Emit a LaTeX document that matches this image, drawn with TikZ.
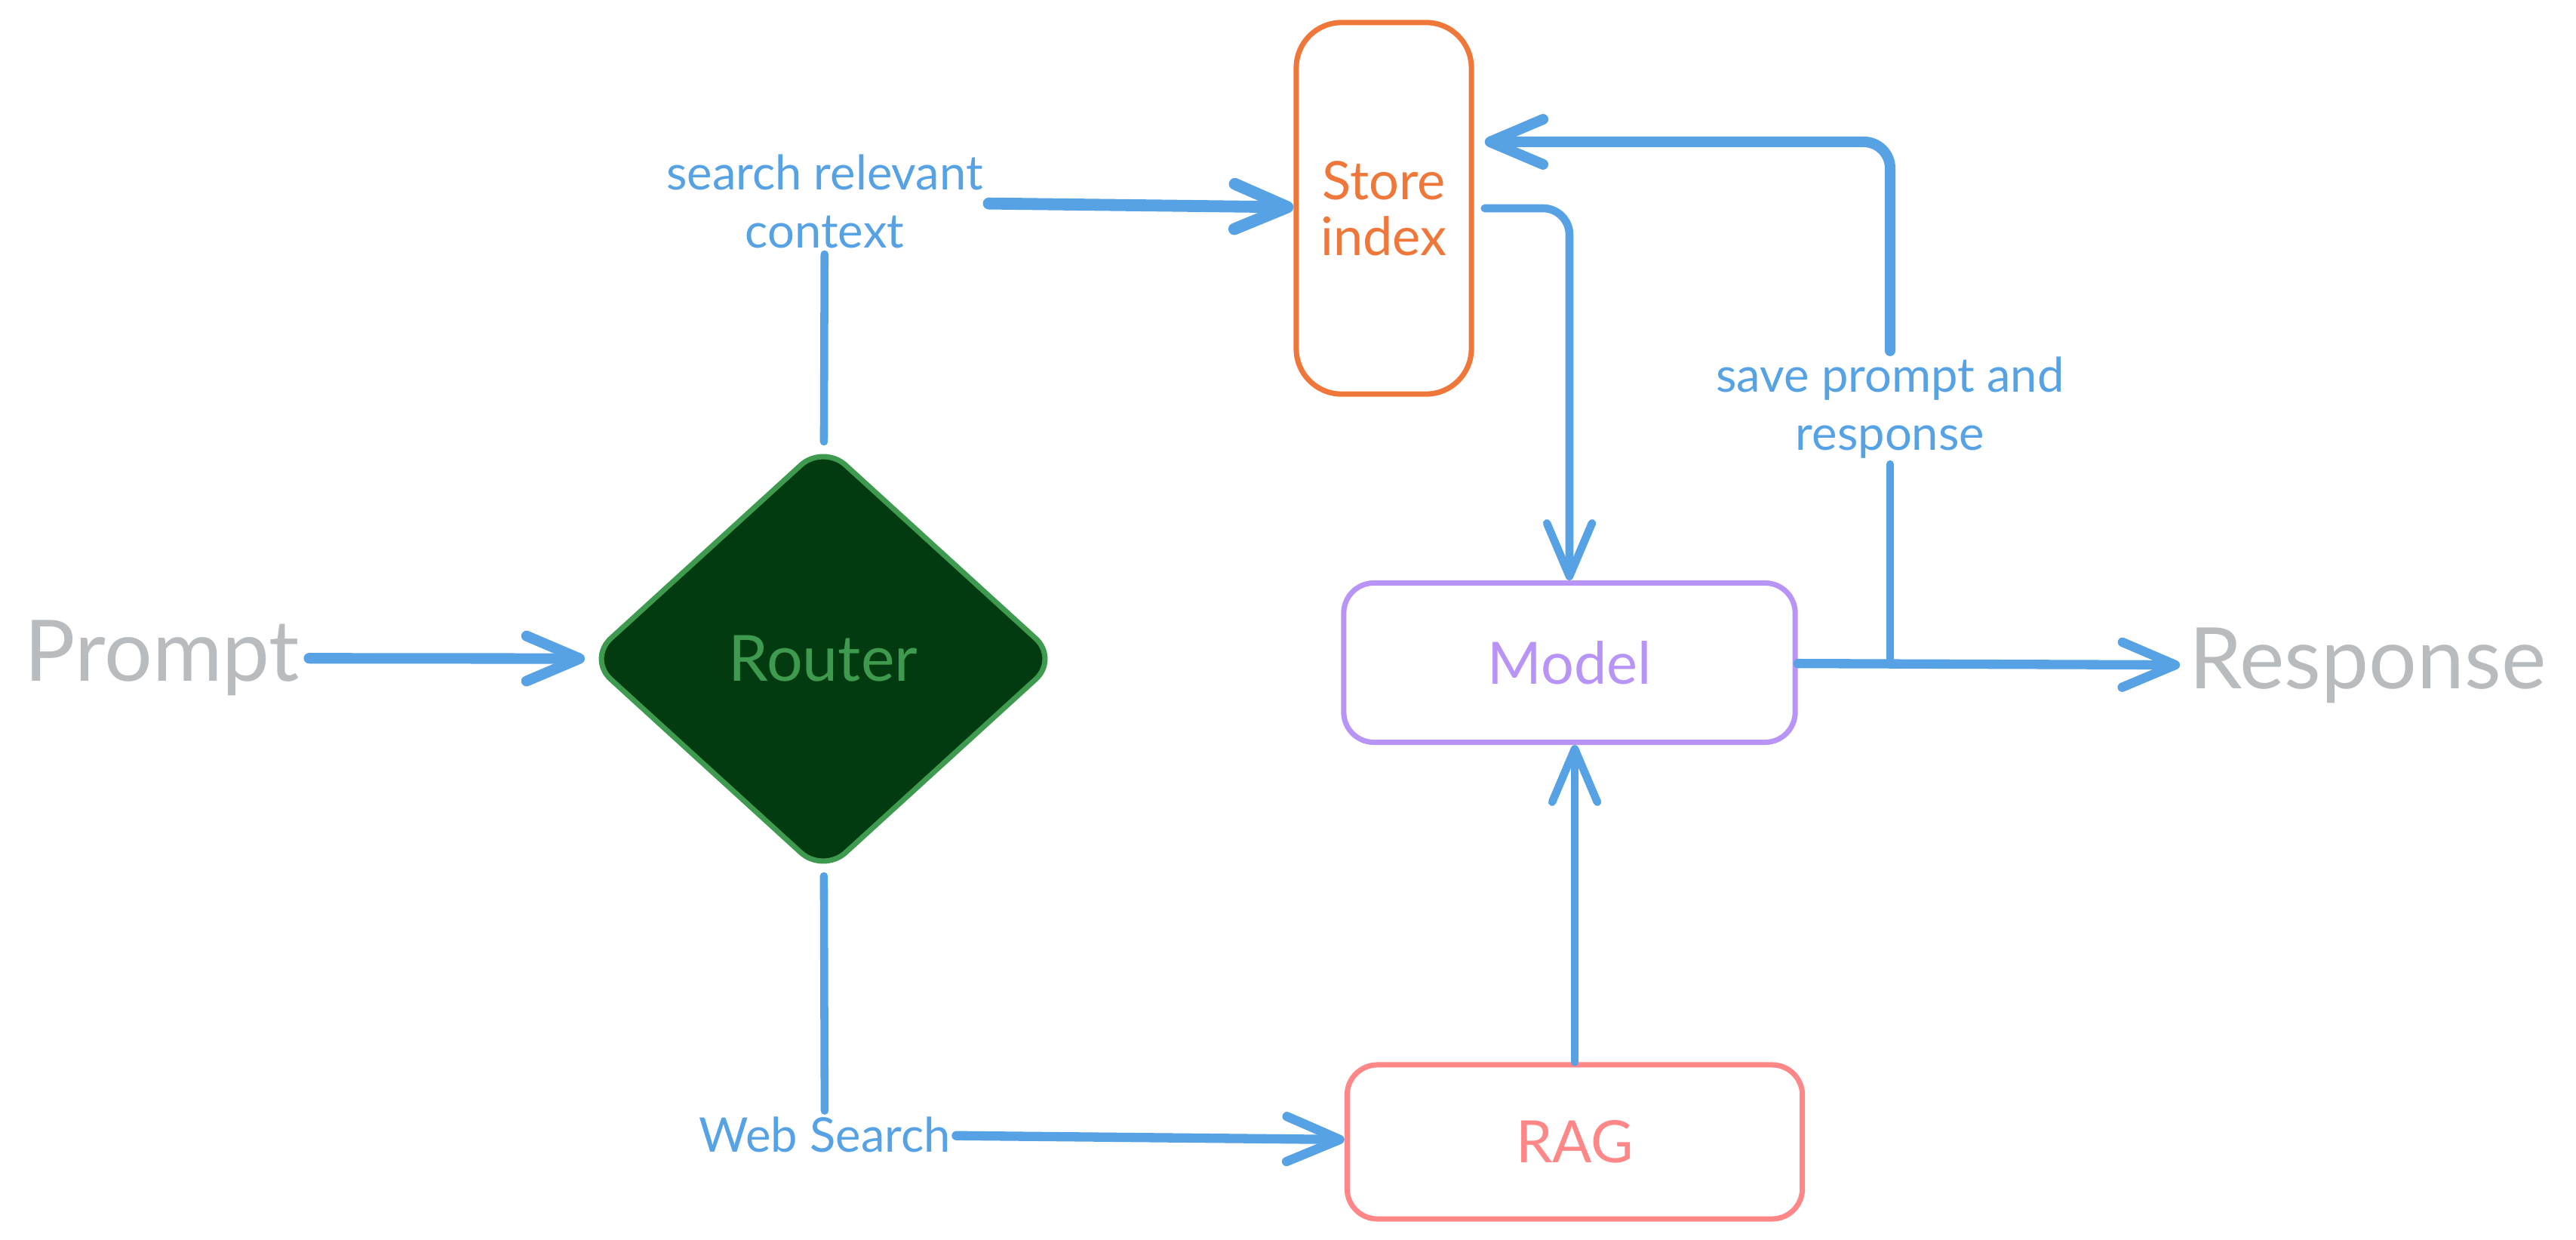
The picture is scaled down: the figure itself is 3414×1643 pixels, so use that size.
\documentclass[tikz,border=0pt]{standalone}
\usepackage{fontspec}
\setmainfont{Lato}
\usepackage{tikz}
\usetikzlibrary{shapes.geometric}
\usetikzlibrary{arrows.meta}
\usetikzlibrary{calc}
\definecolor{wireblue}{RGB}{86,162,228}
\definecolor{textgray}{RGB}{184,188,191}
\definecolor{routerfill}{RGB}{3,59,16}
\definecolor{routergreen}{RGB}{62,154,78}
\definecolor{storeorange}{RGB}{240,119,58}
\definecolor{modelpurple}{RGB}{183,148,246}
\definecolor{ragred}{RGB}{255,135,135}
\tikzset{l/.style={font=\fontsize{18}{22}\selectfont, text=wireblue, align=center, inner sep=2pt}}
\tikzset{big/.style={font=\fontsize{32}{32}\selectfont, text=textgray}}
\tikzset{box/.style={draw, line width=2pt, align=center, font=\fontsize{22}{21}\selectfont, rounded corners=0.4cm}}
\tikzset{wire/.style={draw=wireblue, line width=3pt, line cap=round}}

\begin{document}
\begin{tikzpicture}[x=0.01cm,y=-0.01cm,>={Straight Barb[length=20pt,width=17pt,round]}]
  \useasboundingbox (0,0) rectangle (3414,1643);
  \node (prompt) [big] at (215,872) {Prompt};
  \node (router) [diamond, draw=routergreen, fill=routerfill, line width=2pt, rounded corners=0.4cm,
    inner sep=0pt, minimum width=6.25cm, minimum height=5.7cm, text=routergreen,
    font=\fontsize{24}{24}\selectfont] at (1091,873) {Router}
    edge [<-, wire, line width=4pt] (prompt);
  \node (ctx) [l] at (1093,267) {search relevant\\context}
    edge [wire] (router);
  \node (store) [box, draw=storeorange, text=storeorange, minimum width=2.32cm,
    minimum height=4.92cm, rounded corners=0.6cm, font=\fontsize{20}{21}\selectfont] at (1834,276) {Store\\index}
    edge [<-, wire, line width=4.5pt] (ctx);
  \node (model) [box, draw=modelpurple, text=modelpurple, minimum width=5.98cm,
    minimum height=2.11cm] at (2080,878) {Model};
  \node (rag) [box, draw=ragred, text=ragred, minimum width=6.03cm,
    minimum height=2.04cm] at (2087,1513) {RAG};
  \node (resp) [big] at (3138,882) {Response};
  \node (save) [l] at (2505,540) {save prompt and\\response};
  \node (web) [l] at (1093,1503) {Web Search};
  \coordinate (split) at (save |- model.east);
  % store to model, and back
  \draw [->, wire, rounded corners=0.35cm, shorten <=4pt] (store.east) -| (model.north);
  \draw [wire] (split) -- (save);
  \draw [->, wire, line width=4pt, rounded corners=0.35cm, shorten >=4pt] (save) |- ([yshift=0.88cm]store.east);
  \draw [->, wire, line width=3.5pt] (model) -- (resp);
  % web search branch
  \draw [wire] (router) -- (web);
  \draw [->, wire, line width=3.5pt] (web) -- (rag);
  \draw [->, wire] (rag) -- (rag |- model.south);
\end{tikzpicture}
\end{document}
